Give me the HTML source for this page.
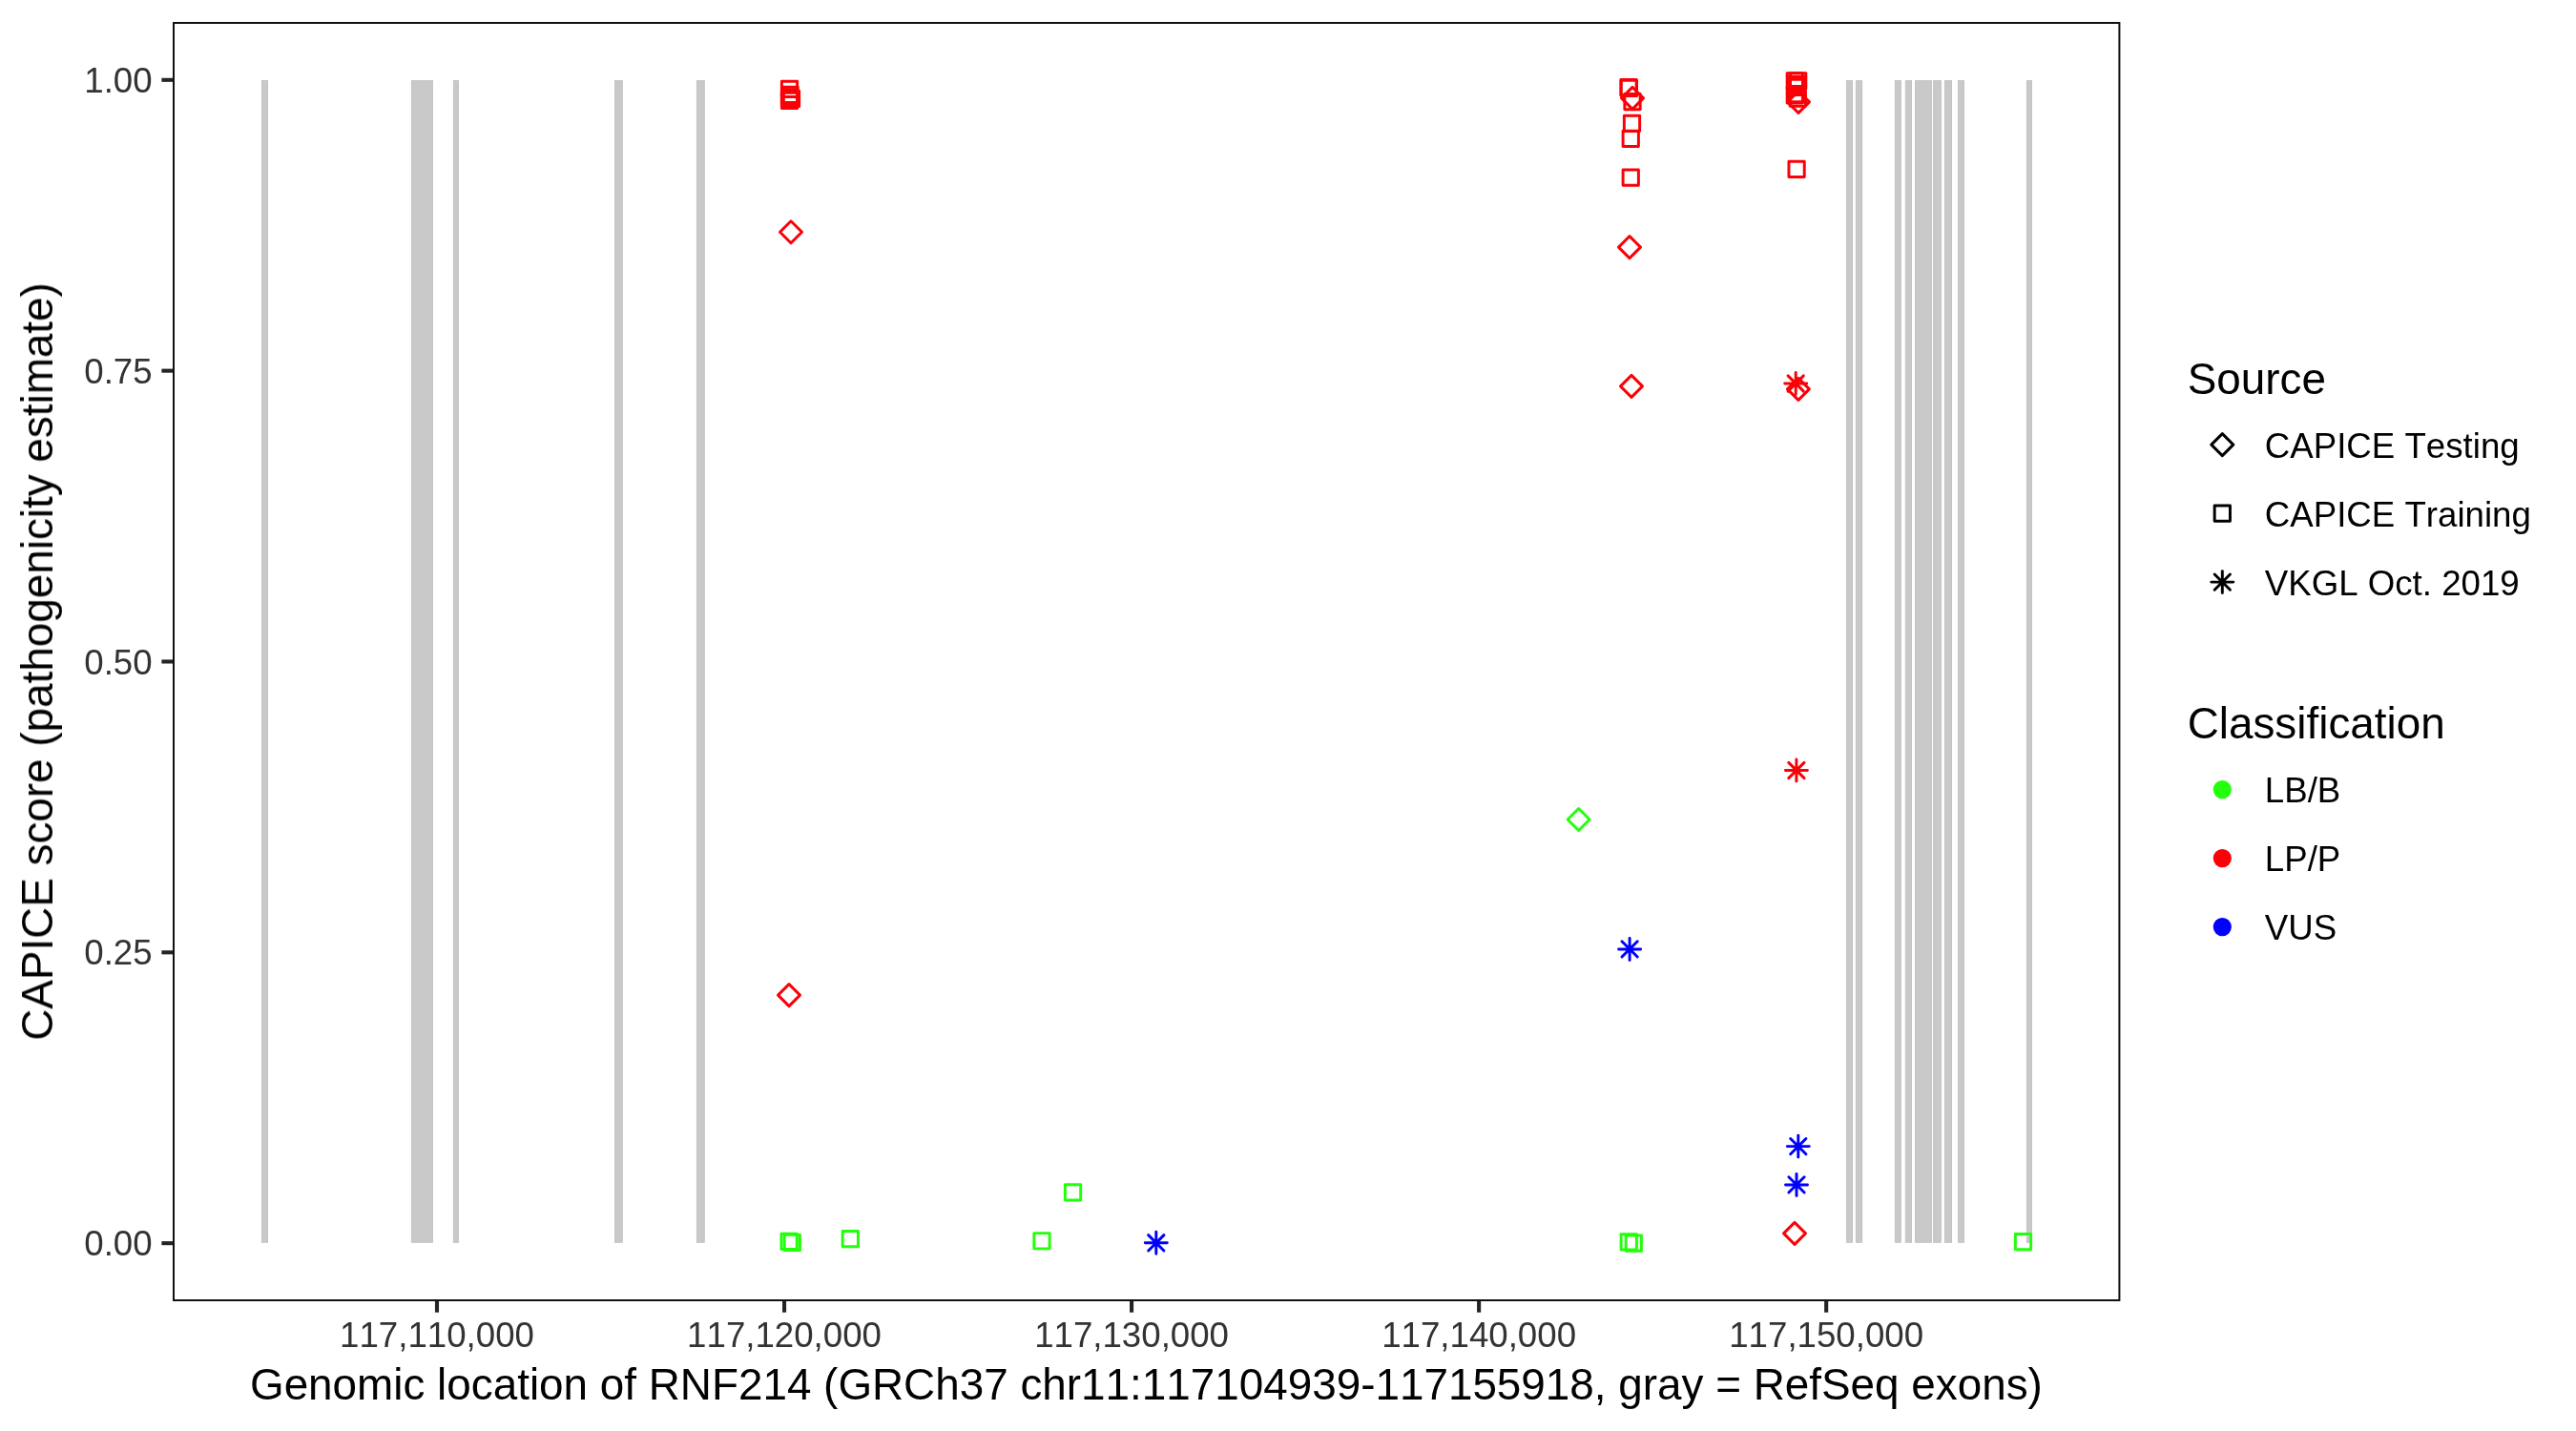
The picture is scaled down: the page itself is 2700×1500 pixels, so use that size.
<!DOCTYPE html>
<html lang="en"><head><meta charset="utf-8"><title>CAPICE score along RNF214</title>
<style>html,body{margin:0;padding:0;background:#fff;}body{width:2700px;height:1500px;}svg{display:block;}text{font-family:"Liberation Sans", Arial, Helvetica, sans-serif;font-kerning:none;font-variant-ligatures:none;font-feature-settings:"kern" 0,"liga" 0;}</style></head><body>
<svg width="2700" height="1500" viewBox="0 0 2700 1500">
<rect x="0" y="0" width="2700" height="1500" fill="#ffffff"/>
<g fill="#C9C9C9" stroke="#C3C3C3" stroke-width="1">
<rect x="274.5" y="84.6" width="6" height="1217.7"/>
<rect x="431.4" y="84.6" width="22" height="1217.7"/>
<rect x="475.4" y="84.6" width="5" height="1217.7"/>
<rect x="644.5" y="84.6" width="7.8" height="1217.7"/>
<rect x="730.4" y="84.6" width="7.9" height="1217.7"/>
<rect x="1935.5" y="84.6" width="6" height="1217.7"/>
<rect x="1945.4" y="84.6" width="6.2" height="1217.7"/>
<rect x="1986.4" y="84.6" width="6" height="1217.7"/>
<rect x="1997.3" y="84.6" width="6.2" height="1217.7"/>
<rect x="2007.5" y="84.6" width="16.9" height="1217.7"/>
<rect x="2026.6" y="84.6" width="7.8" height="1217.7"/>
<rect x="2038.4" y="84.6" width="7.1" height="1217.7"/>
<rect x="2052.5" y="84.6" width="5.9" height="1217.7"/>
<rect x="2124.4" y="84.6" width="5.1" height="1217.7"/>
</g>
<g fill="none" stroke-width="2.95" stroke-linejoin="round" stroke-linecap="round">
<rect x="819.36" y="85.16" width="16.28" height="16.28" stroke="#FC0007"/>
<rect x="819.96" y="91.16" width="16.28" height="16.28" stroke="#FC0007"/>
<rect x="819.36" y="93.76" width="16.28" height="16.28" stroke="#FC0007"/>
<rect x="819.36" y="97.16" width="16.28" height="16.28" stroke="#FC0007"/>
<rect x="821.36" y="95.36" width="16.28" height="16.28" stroke="#FC0007"/>
<path d="M829 231.8L840.5 243.3L829 254.8L817.5 243.3Z" stroke="#FC0007"/>
<path d="M827 1031.6L838.5 1043.1L827 1054.6L815.5 1043.1Z" stroke="#FC0007"/>
<rect x="818.96" y="1293.26" width="16.28" height="16.28" stroke="#22FF0A"/>
<rect x="822.16" y="1294.36" width="16.28" height="16.28" stroke="#22FF0A"/>
<rect x="883.16" y="1290.46" width="16.28" height="16.28" stroke="#22FF0A"/>
<rect x="1083.86" y="1292.61" width="16.28" height="16.28" stroke="#22FF0A"/>
<rect x="1116.42" y="1241.66" width="16.28" height="16.28" stroke="#22FF0A"/>
<path d="M1203.66 1294.66L1219.94 1310.94M1203.66 1310.94L1219.94 1294.66M1200.3 1302.8L1223.3 1302.8M1211.8 1291.3L1211.8 1314.3" stroke="#0000FF"/>
<path d="M1654.6 847.5L1666.1 859L1654.6 870.5L1643.1 859Z" stroke="#22FF0A"/>
<rect x="1698.86" y="83.56" width="16.28" height="16.28" stroke="#FC0007"/>
<rect x="1699.26" y="84.36" width="16.28" height="16.28" stroke="#FC0007"/>
<rect x="1702.86" y="98.46" width="16.28" height="16.28" stroke="#FC0007"/>
<path d="M1711 91.4L1722.5 102.9L1711 114.4L1699.5 102.9Z" stroke="#FC0007"/>
<rect x="1702.36" y="121.16" width="16.28" height="16.28" stroke="#FC0007"/>
<rect x="1701.11" y="137.26" width="16.28" height="16.28" stroke="#FC0007"/>
<rect x="1701.11" y="177.96" width="16.28" height="16.28" stroke="#FC0007"/>
<path d="M1708 247.6L1719.5 259.1L1708 270.6L1696.5 259.1Z" stroke="#FC0007"/>
<path d="M1710 393.4L1721.5 404.9L1710 416.4L1698.5 404.9Z" stroke="#FC0007"/>
<path d="M1699.96 986.76L1716.24 1003.04M1699.96 1003.04L1716.24 986.76M1696.6 994.9L1719.6 994.9M1708.1 983.4L1708.1 1006.4" stroke="#0000FF"/>
<rect x="1699.11" y="1293.76" width="16.28" height="16.28" stroke="#22FF0A"/>
<rect x="1704.16" y="1294.96" width="16.28" height="16.28" stroke="#22FF0A"/>
<rect x="1873.16" y="76.76" width="16.28" height="16.28" stroke="#FC0007"/>
<rect x="1876.56" y="76.76" width="16.28" height="16.28" stroke="#FC0007"/>
<rect x="1874.86" y="80.46" width="16.28" height="16.28" stroke="#FC0007"/>
<rect x="1874.86" y="83.16" width="16.28" height="16.28" stroke="#FC0007"/>
<rect x="1874.86" y="90.36" width="16.28" height="16.28" stroke="#FC0007"/>
<rect x="1873.16" y="91.66" width="16.28" height="16.28" stroke="#FC0007"/>
<rect x="1876.16" y="95.06" width="16.28" height="16.28" stroke="#FC0007"/>
<path d="M1885 95.4L1896.5 106.9L1885 118.4L1873.5 106.9Z" stroke="#FC0007"/>
<rect x="1874.96" y="169.16" width="16.28" height="16.28" stroke="#FC0007"/>
<path d="M1874.06 393.86L1890.34 410.14M1874.06 410.14L1890.34 393.86M1870.7 402L1893.7 402M1882.2 390.5L1882.2 413.5" stroke="#FC0007"/>
<path d="M1884.9 396.4L1896.4 407.9L1884.9 419.4L1873.4 407.9Z" stroke="#FC0007"/>
<path d="M1874.76 799.36L1891.04 815.64M1874.76 815.64L1891.04 799.36M1871.4 807.5L1894.4 807.5M1882.9 796L1882.9 819" stroke="#FC0007"/>
<path d="M1876.66 1193.46L1892.94 1209.74M1876.66 1209.74L1892.94 1193.46M1873.3 1201.6L1896.3 1201.6M1884.8 1190.1L1884.8 1213.1" stroke="#0000FF"/>
<path d="M1874.86 1233.76L1891.14 1250.04M1874.86 1250.04L1891.14 1233.76M1871.5 1241.9L1894.5 1241.9M1883 1230.4L1883 1253.4" stroke="#0000FF"/>
<path d="M1881 1281.4L1892.5 1292.9L1881 1304.4L1869.5 1292.9Z" stroke="#FC0007"/>
<rect x="2112.36" y="1293.46" width="16.28" height="16.28" stroke="#22FF0A"/>
</g>
<rect x="182" y="24" width="2039.4" height="1339" fill="none" stroke="#111111" stroke-width="2"/>
<g stroke="#242424" stroke-width="4.1">
<line x1="169.4" y1="1303.15" x2="181" y2="1303.15"/>
<line x1="169.4" y1="998.31" x2="181" y2="998.31"/>
<line x1="169.4" y1="693.48" x2="181" y2="693.48"/>
<line x1="169.4" y1="388.64" x2="181" y2="388.64"/>
<line x1="169.4" y1="83.8" x2="181" y2="83.8"/>
<line x1="458" y1="1364" x2="458" y2="1375.7"/>
<line x1="822.04" y1="1364" x2="822.04" y2="1375.7"/>
<line x1="1186.08" y1="1364" x2="1186.08" y2="1375.7"/>
<line x1="1550.12" y1="1364" x2="1550.12" y2="1375.7"/>
<line x1="1914.16" y1="1364" x2="1914.16" y2="1375.7"/>
</g>
<g opacity="0.999">
<g font-size="36.67" fill="#333333" text-anchor="end">
<text x="159.6" y="96.9">1.00</text>
<text x="159.6" y="401.74">0.75</text>
<text x="159.6" y="706.58">0.50</text>
<text x="159.6" y="1011.41">0.25</text>
<text x="159.6" y="1316.25">0.00</text>
</g>
<g font-size="36.67" fill="#333333" text-anchor="middle">
<text x="458" y="1411.85">117,110,000</text>
<text x="822.04" y="1411.85">117,120,000</text>
<text x="1186.08" y="1411.85">117,130,000</text>
<text x="1550.12" y="1411.85">117,140,000</text>
<text x="1914.16" y="1411.85">117,150,000</text>
</g>
<text x="1201.4" y="1466.6" font-size="45.83" fill="#000" text-anchor="middle">Genomic location of RNF214 (GRCh37 chr11:117104939-117155918, gray = RefSeq exons)</text>
<text transform="translate(55 693.45) rotate(-90)" font-size="45.83" fill="#000" text-anchor="middle">CAPICE score (pathogenicity estimate)</text>
<g font-size="45.83" fill="#000">
<text x="2292.7" y="412.9">Source</text>
<text x="2292.7" y="774.2">Classification</text>
</g>
<g font-size="36.67" fill="#000">
<text x="2373.8" y="479.85">CAPICE Testing</text>
<text x="2373.8" y="551.85">CAPICE Training</text>
<text x="2373.8" y="623.85">VKGL Oct. 2019</text>
<text x="2373.8" y="840.9">LB/B</text>
<text x="2373.8" y="912.9">LP/P</text>
<text x="2373.8" y="984.9">VUS</text>
</g>
</g>
<g fill="none" stroke-width="2.95" stroke-linejoin="round" stroke-linecap="round">
<path d="M2329.3 454.6L2340.8 466.1L2329.3 477.6L2317.8 466.1Z" stroke="#000"/>
<rect x="2321.16" y="529.96" width="16.28" height="16.28" stroke="#000"/>
<path d="M2321.16 601.96L2337.44 618.24M2321.16 618.24L2337.44 601.96M2317.8 610.1L2340.8 610.1M2329.3 598.6L2329.3 621.6" stroke="#000"/>
</g>
<circle cx="2329.3" cy="827.6" r="9.6" fill="#22FF0A"/>
<circle cx="2329.3" cy="899.6" r="9.6" fill="#FC0007"/>
<circle cx="2329.3" cy="971.6" r="9.6" fill="#0000FF"/>
</svg></body></html>
